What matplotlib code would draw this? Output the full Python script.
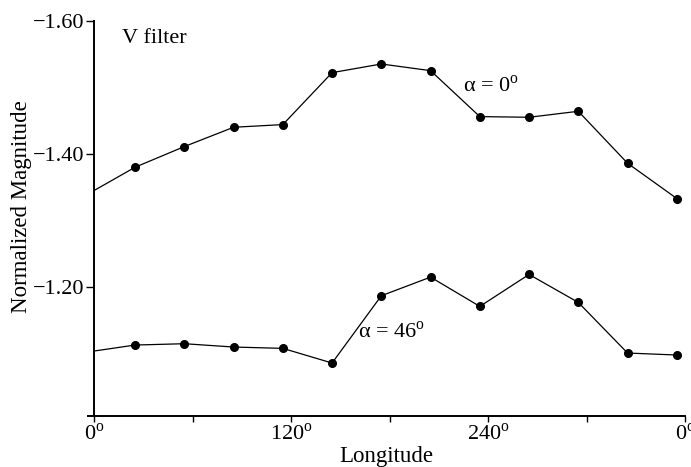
import matplotlib
matplotlib.use("Agg")
import matplotlib.pyplot as plt
from matplotlib.ticker import FixedLocator

plt.rcParams['font.family'] = ['Liberation Serif', 'DejaVu Serif']
plt.rcParams['mathtext.fontset'] = 'custom'
plt.rcParams['mathtext.rm'] = 'Liberation Serif'

# Data
longitude = [25, 55, 85, 115, 145, 175, 205, 235, 265, 295, 325, 355]
mag_alpha0 = [-1.380, -1.411, -1.440, -1.444, -1.522, -1.535, -1.525, -1.456,
              -1.455, -1.464, -1.386, -1.333]
mag_alpha46 = [-1.113, -1.115, -1.110, -1.108, -1.086, -1.187, -1.215, -1.171,
               -1.219, -1.177, -1.101, -1.098]
# value where each line meets the 0 deg axis (no marker)
start_alpha0 = -1.345
start_alpha46 = -1.104

DEG = r"$^{\mathrm{o}}$"
xtick_major = [0, 120, 240, 360]
xtick_labels = ["0" + DEG, "120" + DEG, "240" + DEG, "0" + DEG]
xtick_minor = [60, 180, 300]
ytick_vals = [-1.60, -1.40, -1.20]
ytick_labels = ["\u22121.60", "\u22121.40", "\u22121.20"]

fig = plt.figure(figsize=(6.91, 4.67), dpi=100)
ax = fig.add_axes([88/691, 1 - 416.3/467, (685 - 88)/691, (416.3 - 20.7)/467])

for start, vals in [(start_alpha0, mag_alpha0), (start_alpha46, mag_alpha46)]:
    ax.plot([0] + longitude[:1], [start] + vals[:1], color='black', lw=0.9)
    ax.plot(longitude, vals, color='black', lw=0.9, marker='o', ms=5.5,
            markerfacecolor='black', markeredgecolor='black')

ax.set_xlim(-3.7, 360)
ax.set_ylim(-1.006, -1.60)

ax.spines['top'].set_visible(False)
ax.spines['right'].set_visible(False)
ax.spines['left'].set_position(('data', 0))
ax.spines['left'].set_linewidth(1.4)
ax.spines['bottom'].set_linewidth(1.4)

ax.xaxis.set_major_locator(FixedLocator(xtick_major))
ax.set_xticklabels(xtick_labels)
ax.xaxis.set_minor_locator(FixedLocator(xtick_minor))
ax.tick_params(axis='x', which='both', direction='out', length=4, width=1.0,
               labelsize=16, pad=1)
ax.set_yticks(ytick_vals)
ax.set_yticklabels(ytick_labels)
ax.tick_params(axis='y', direction='out', length=6, width=1.0, labelsize=16, pad=1)

ax.set_xlabel("Longitude", fontsize=16.5, labelpad=1)
ax.set_ylabel("Normalized Magnitude", fontsize=16.5)
ax.yaxis.set_label_coords(-0.094, 0.53)

ax.text(17, -1.574, "V filter", fontsize=16, va='center', ha='left')
ax.text(224.5, -1.501, "α = 0" + DEG, fontsize=16, va='center', ha='left')
ax.text(161, -1.132, "α = 46" + DEG, fontsize=16, va='center', ha='left')

fig.savefig("out.png", dpi=100)
